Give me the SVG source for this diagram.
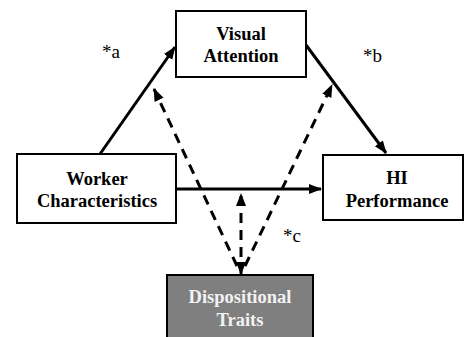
<svg xmlns="http://www.w3.org/2000/svg" width="464" height="337" viewBox="0 0 464 337">
<style>
.box{fill:#fff;stroke:#000;stroke-width:2}
.dark{fill:#7f7f7f;stroke:#000;stroke-width:2}
text{font-family:'Liberation Serif','Times New Roman',Times,'DejaVu Serif',serif}
.t{font-weight:bold;font-size:18.5px;text-anchor:middle;fill:#000}
.tw{fill:#f2f2f2}
.lab{font-size:19px;fill:#000}
.solid{stroke:#000;stroke-width:3;fill:none;marker-end:url(#ah)}
.dash{stroke:#000;stroke-width:3;fill:none;stroke-dasharray:10 7;marker-end:url(#ah)}
</style>
<defs>
<marker id="ah" markerUnits="userSpaceOnUse" markerWidth="14" markerHeight="12" refX="12" refY="5" orient="auto-start-reverse" viewBox="0 0 14 10">
<path d="M0,0 L13,5 L0,10 Z" fill="#000"/>
</marker>
</defs>
<g id="connectors">
<line class="solid" x1="100" y1="154" x2="175" y2="47"/>
<line class="solid" x1="306" y1="45" x2="386" y2="153"/>
<line class="solid" x1="176" y1="189" x2="321" y2="189"/>
<line class="dash" x1="237" y1="266" x2="154" y2="89"/>
<line class="dash" x1="245" y1="266" x2="332" y2="85"/>
<line class="dash" x1="241" y1="274" x2="241" y2="194" style="marker-start:url(#ah)"/>
</g>
<g id="visual-attention">
<rect class="box" x="176" y="11" width="130" height="66"/>
<text class="t" x="241" y="40" font-family="Liberation Serif">Visual</text>
<text class="t" x="241" y="62">Attention</text>
</g>
<g id="worker-characteristics">
<rect class="box" x="17" y="154" width="159" height="69"/>
<text class="t" x="97" y="185">Worker</text>
<text class="t" x="97" y="207">Characteristics</text>
</g>
<g id="hi-performance">
<rect class="box" x="323" y="155" width="140" height="65"/>
<text class="t" x="397" y="184">HI</text>
<text class="t" x="397" y="207">Performance</text>
</g>
<g id="dispositional-traits">
<rect class="dark" x="167" y="275" width="146" height="70"/>
<text class="t tw" x="240" y="303">Dispositional</text>
<text class="t tw" x="240" y="326">Traits</text>
</g>
<g id="labels">
<text class="lab" x="102" y="58">*a</text>
<text class="lab" x="363" y="62">*b</text>
<text class="lab" x="283" y="242">*c</text>
</g>
</svg>
